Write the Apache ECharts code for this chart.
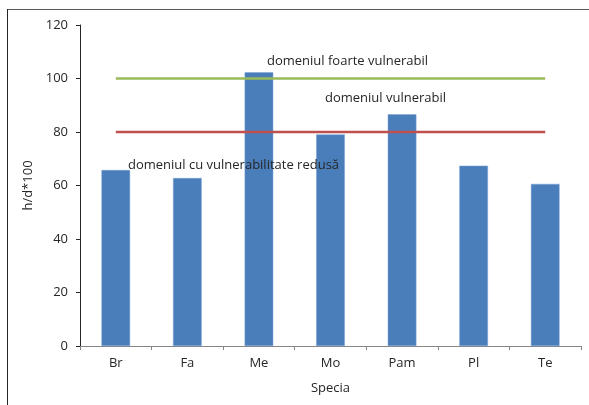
<!DOCTYPE html>
<html>
<head>
<meta charset="utf-8">
<script src="https://cdn.jsdelivr.net/npm/echarts@6/dist/echarts.min.js"></script>
<style>html,body{margin:0;padding:0;background:#fff}#c{width:589px;height:405px}</style>
</head>
<body>
<div id="c"></div>
<script>
const categories = ['Br', 'Fa', 'Me', 'Mo', 'Pam', 'Pl', 'Te'];
const values = [65.8, 62.8, 102.3, 79.1, 86.6, 67.4, 60.6];
const highLimit = [100, 100, 100, 100, 100, 100, 100];
const midLimit = [80, 80, 80, 80, 80, 80, 80];
const annotations = ['domeniul foarte vulnerabil', 'domeniul vulnerabil', 'domeniul cu vulnerabilitate redusă'];

const FONT = 'Open Sans';
const FS = 13;
const chart = echarts.init(document.getElementById('c'));
chart.setOption({
  animation: false,
  textStyle: { fontFamily: FONT },
  grid: { left: 80, right: 8, top: 25, bottom: 59 },
  xAxis: {
    type: 'category',
    data: categories,
    name: 'Specia',
    nameLocation: 'middle',
    nameGap: 36,
    nameTextStyle: { color: '#262626', fontSize: FS, fontFamily: FONT },
    axisLine: { lineStyle: { color: '#868686', width: 1 } },
    axisTick: { show: true, length: 4, lineStyle: { color: '#868686' } },
    axisLabel: { color: '#262626', fontSize: FS, margin: 11, fontFamily: FONT }
  },
  yAxis: {
    type: 'value',
    min: 0, max: 120, interval: 20,
    name: 'h/d*100',
    nameLocation: 'middle',
    nameGap: 41,
    nameTextStyle: { color: '#262626', fontSize: FS, fontFamily: FONT },
    splitLine: { show: false },
    axisLine: { show: true, lineStyle: { color: '#262626', width: 1 } },
    axisTick: { show: true, length: 4, lineStyle: { color: '#262626' } },
    axisLabel: { color: '#262626', fontSize: FS, margin: 12, fontFamily: FONT }
  },
  series: [
    {
      type: 'bar', data: values, barWidth: '40%',
      itemStyle: { color: '#4a7ebb', borderColor: '#7aa3d6', borderWidth: 0.5 }
    },
    {
      type: 'line', data: highLimit, symbol: 'none',
      lineStyle: { color: '#9bbb59', width: 2.5 }, z: 5
    },
    {
      type: 'line', data: midLimit, symbol: 'none',
      lineStyle: { color: '#c0504d', width: 2.5 }, z: 5
    }
  ],
  graphic: [
    { type: 'line', z: 100, shape: { x1: 7, y1: 9.5, x2: 589, y2: 9.5 }, style: { stroke: '#595959', lineWidth: 1 } },
    { type: 'line', z: 100, shape: { x1: 7.5, y1: 9, x2: 7.5, y2: 405 }, style: { stroke: '#262626', lineWidth: 1 } },
    { type: 'text', z: 100, left: 267, top: 55, style: { text: annotations[0], fill: '#262626', font: FS + 'px "' + FONT + '"' } },
    { type: 'text', z: 100, left: 325, top: 92, style: { text: annotations[1], fill: '#262626', font: FS + 'px "' + FONT + '"' } },
    { type: 'text', z: 100, left: 128, top: 159, style: { text: annotations[2], fill: '#262626', font: FS + 'px "' + FONT + '"' } }
  ]
});
</script>
</body>
</html>
